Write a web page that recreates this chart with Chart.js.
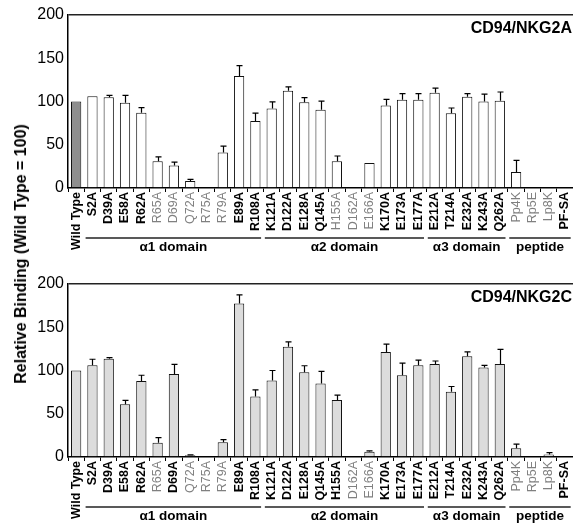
<!DOCTYPE html>
<html>
<head>
<meta charset="utf-8">
<script src="https://cdn.jsdelivr.net/npm/chart.js@4.4.1/dist/chart.umd.min.js"></script>
<style>
  html, body { margin: 0; padding: 0; overflow: hidden; background: #fff; }
  #wrap { position: relative; width: 573px; height: 524px; overflow: hidden; }
  canvas { position: absolute; left: 0; }
  #c1 { top: 0; }
  #c2 { top: 262px; }
  #ytitle {
    position: absolute; left: 21px; top: 254px;
    transform: translate(-50%, -50%) rotate(-90deg);
    font: bold 16px "Liberation Sans", Arial, sans-serif; white-space: nowrap; color: #000;
  }
</style>
</head>
<body>
<div id="wrap">
  <canvas id="c1" width="580" height="262"></canvas>
  <canvas id="c2" width="580" height="262"></canvas>
  <div id="ytitle">Relative Binding (Wild Type = 100)</div>
</div>
<script>
// ---- data ----
const categories = ["Wild Type","S2A","D39A","E58A","R62A","R65A","D69A","Q72A","R75A","R79A","E89A","R108A",
  "K121A","D122A","E128A","Q145A","H155A","D162A","E166A","K170A","E173A","E177A",
  "E212A","T214A","E232A","K243A","Q262A","Pp4K","Rp5E","Lp8K","PF-SA"];

const nkg2aValues = [100,106,105,98.5,87,31,26,8,0,41,129.5,77.5,
  92,112.5,99,90.5,31,1,29,95.5,102,102,
  110,86.5,105.5,100,101,18.5,0,1,0];
const nkg2aErrors = [0,0,2,8.5,6,5,4,2,0,7.5,12,9,
  7.5,4.5,5.5,10,6,0,0,7,7,7,
  5.5,6,3.5,8.5,10,13.5,0,0,0];

const nkg2cValues = [100,106,113.5,61,88,16.5,96,2,0,17,177.5,70,
  88.5,127.5,98,85,66,0,6,121.5,94.5,106,
  107.5,75.5,116.5,103.5,107.5,10,1,3,0];
const nkg2cErrors = [0,7,1.5,4.5,6.5,6,11,0.5,0,3,10,7.5,
  11.5,5.5,7.5,14,5.5,0,1,9,14,6,
  3.5,6,5,2.5,17,5,0,2,0];

const yTicks = [0,50,100,150,200];

const nkg2aWeakLabels = ["R65A","D69A","Q72A","R75A","R79A","H155A","D162A","E166A","Pp4K","Rp5E","Lp8K"];
const nkg2cWeakLabels = ["R65A","Q72A","R75A","R79A","D162A","E166A","Pp4K","Rp5E","Lp8K"];

const domainNames = ["\u03b11 domain","\u03b12 domain","\u03b13 domain","peptide"];
const domainStart = ["S2A","K121A","E212A","Pp4K"];
const domainEnd   = ["R108A","E177A","Q262A","PF-SA"];

// ---- plugins ----
const FONT = '"Liberation Sans", Arial, Helvetica, sans-serif';

const errorBars = {
  id: 'errorBars',
  afterDatasetsDraw(chart) {
    const meta = chart.getDatasetMeta(0);
    const ys = chart.scales.y;
    const ds = chart.data.datasets[0];
    const ctx = chart.ctx;
    ctx.save();
    ctx.strokeStyle = '#000';
    ctx.lineWidth = 1.2;
    meta.data.forEach((bar, i) => {
      const e = ds.errors[i];
      if (!e) return;
      const x = Math.round(bar.x) + 0.5;
      const y1 = ys.getPixelForValue(ds.data[i] + e);
      ctx.beginPath();
      ctx.moveTo(x, bar.y);
      ctx.lineTo(x, y1);
      ctx.moveTo(x - 3, y1);
      ctx.lineTo(x + 3, y1);
      ctx.stroke();
    });
    ctx.restore();
  }
};

const annotations = {
  id: 'annotations',
  afterDraw(chart, args, opts) {
    const xs = chart.scales.x;
    const ctx = chart.ctx;
    const w = xs.getPixelForValue(1) - xs.getPixelForValue(0);
    const base = chart.chartArea.bottom;
    ctx.save();
    domainNames.forEach((name, k) => {
      const i0 = categories.indexOf(domainStart[k]);
      const i1 = categories.indexOf(domainEnd[k]);
      const x0 = xs.getPixelForValue(i0) - 0.42 * w;
      const x1 = xs.getPixelForValue(i1) + 0.35 * w;
      ctx.strokeStyle = '#222';
      ctx.lineWidth = 1.6;
      ctx.beginPath();
      ctx.moveTo(x0, base + opts.lineOffset);
      ctx.lineTo(x1, base + opts.lineOffset);
      ctx.stroke();
      ctx.fillStyle = '#000';
      ctx.font = 'bold 13.5px ' + FONT;
      ctx.textAlign = 'center';
      ctx.textBaseline = 'middle';
      ctx.fillText(name, (x0 + x1) / 2, base + opts.textOffset);
    });
    ctx.font = 'bold 16px ' + FONT;
    ctx.textAlign = 'right';
    ctx.textBaseline = 'middle';
    ctx.fillStyle = '#000';
    ctx.fillText(opts.title, 572, chart.chartArea.top + 14);
    ctx.restore();
  }
};

function makeChart(id, values, errors, colors, weak, title, padTop, xHeight) {
  return new Chart(document.getElementById(id), {
    type: 'bar',
    data: {
      labels: categories,
      datasets: [{
        data: values,
        errors: errors,
        backgroundColor: colors,
        borderColor: '#111',
        borderWidth: 1,
        barPercentage: 0.63,
        categoryPercentage: 1.0
      }]
    },
    plugins: [errorBars, annotations],
    options: {
      responsive: false,
      animation: false,
      layout: { padding: { top: padTop, right: 1, left: 0, bottom: 0 } },
      plugins: {
        legend: { display: false },
        tooltip: { enabled: false },
        annotations: { title: title, lineOffset: 50, textOffset: 59.5 }
      },
      scales: {
        x: {
          offset: true,
          grid: { display: true, drawOnChartArea: false, drawTicks: true, tickLength: 4, color: '#000', offset: true },
          border: { display: true, color: '#000', width: 1.5 },
          ticks: {
            autoSkip: false,
            minRotation: 90,
            maxRotation: 90,
            padding: 0,
            color: (c) => weak.includes(categories[c.index]) ? '#808080' : '#000',
            font: (c) => ({ family: FONT, size: 12.5, weight: weak.includes(categories[c.index]) ? 'normal' : 'bold' })
          },
          afterFit: (s) => { s.height = xHeight; }
        },
        y: {
          min: 0,
          max: 200,
          afterBuildTicks: (s) => { s.ticks = yTicks.map(v => ({ value: v })); },
          grid: {
            drawTicks: false,
            color: (c) => (c.tick && c.tick.value === 200) ? '#222' : 'rgba(0,0,0,0)',
            lineWidth: 1.5
          },
          border: { display: true, color: '#000', width: 1.5 },
          ticks: { padding: 4, color: '#000', font: { family: FONT, size: 16 } },
          afterFit: (s) => { s.width = 68; }
        }
      }
    }
  });
}

const topColors = categories.map((c, i) => i === 0 ? '#8e8e8e' : '#ffffff');
const botColors = categories.map(() => '#dcdcdc');

makeChart('c1', nkg2aValues, nkg2aErrors, topColors, nkg2aWeakLabels, 'CD94/NKG2A', 15, 262 - 188);
makeChart('c2', nkg2cValues, nkg2cErrors, botColors, nkg2cWeakLabels, 'CD94/NKG2C', 22, 262 - 195);
</script>
</body>
</html>
